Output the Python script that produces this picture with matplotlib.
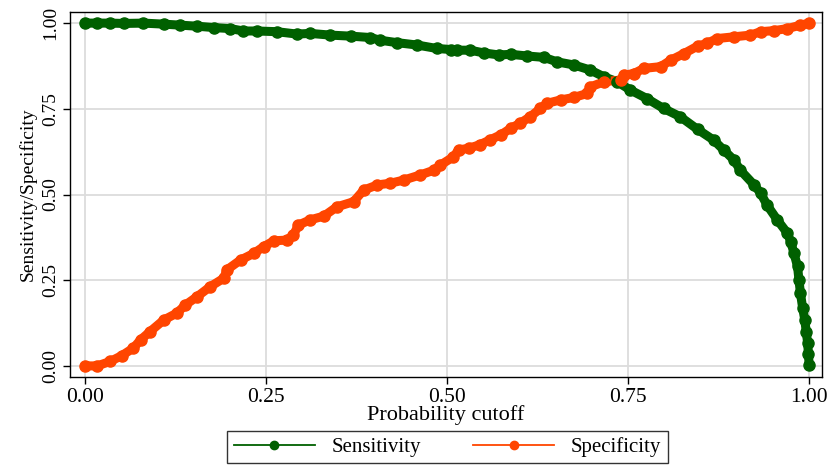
import matplotlib
matplotlib.use("Agg")
import matplotlib.pyplot as plt
from matplotlib.lines import Line2D

# Probability cutoffs and sensitivity values
cut_sens = [0.000, 0.017, 0.035, 0.054, 0.081, 0.109, 0.132, 0.155, 0.178, 0.201,
            0.219, 0.238, 0.265, 0.293, 0.311, 0.339, 0.367, 0.394, 0.408, 0.431,
            0.459, 0.486, 0.505, 0.514, 0.532, 0.551, 0.572, 0.588, 0.611, 0.634,
            0.652, 0.675, 0.698, 0.717, 0.735, 0.753, 0.776, 0.799, 0.822, 0.846,
            0.868, 0.882, 0.896, 0.905, 0.924, 0.933, 0.942, 0.956, 0.970, 0.975,
            0.979, 0.984, 0.986, 0.988, 0.991, 0.994, 0.996, 0.998, 0.999, 1.000]
sensitivity = [1.000, 1.000, 1.000, 0.999, 1.000, 0.997, 0.994, 0.991, 0.987, 0.984,
               0.977, 0.977, 0.975, 0.968, 0.970, 0.965, 0.962, 0.958, 0.950, 0.943,
               0.936, 0.926, 0.923, 0.921, 0.921, 0.913, 0.907, 0.909, 0.904, 0.900,
               0.887, 0.878, 0.863, 0.843, 0.829, 0.805, 0.780, 0.751, 0.727, 0.690,
               0.659, 0.630, 0.601, 0.571, 0.528, 0.504, 0.469, 0.426, 0.387, 0.360,
               0.329, 0.290, 0.250, 0.212, 0.170, 0.134, 0.100, 0.066, 0.035, 0.003]

# Probability cutoffs and specificity values
cut_spec = [0.000, 0.017, 0.035, 0.051, 0.067, 0.077, 0.090, 0.109, 0.127, 0.139,
            0.155, 0.173, 0.192, 0.196, 0.215, 0.233, 0.247, 0.261, 0.279, 0.288,
            0.295, 0.311, 0.330, 0.348, 0.371, 0.385, 0.404, 0.422, 0.440, 0.463,
            0.482, 0.491, 0.509, 0.516, 0.530, 0.545, 0.560, 0.575, 0.588, 0.601,
            0.615, 0.629, 0.638, 0.657, 0.675, 0.694, 0.698, 0.717, 0.740, 0.744,
            0.758, 0.772, 0.795, 0.809, 0.827, 0.846, 0.859, 0.873, 0.896, 0.919,
            0.933, 0.951, 0.970, 0.988, 1.000]
specificity = [0.000, 0.000, 0.013, 0.030, 0.052, 0.076, 0.100, 0.134, 0.154, 0.178,
               0.202, 0.231, 0.256, 0.280, 0.309, 0.328, 0.348, 0.365, 0.367, 0.382,
               0.411, 0.426, 0.437, 0.464, 0.479, 0.513, 0.528, 0.533, 0.542, 0.557,
               0.571, 0.586, 0.610, 0.630, 0.635, 0.645, 0.660, 0.675, 0.693, 0.708,
               0.727, 0.751, 0.766, 0.776, 0.783, 0.795, 0.814, 0.829, 0.834, 0.848,
               0.853, 0.868, 0.873, 0.892, 0.911, 0.933, 0.941, 0.955, 0.960, 0.965,
               0.975, 0.978, 0.984, 0.994, 1.000]

ticks = [0.00, 0.25, 0.50, 0.75, 1.00]
tick_labels = ["0.00", "0.25", "0.50", "0.75", "1.00"]

green = "#006000"
orange = "#ff4500"

plt.rcParams["font.family"] = ["Liberation Serif", "DejaVu Serif"]
plt.rcParams["font.size"] = 14

fig = plt.figure(figsize=(8.33, 4.67), dpi=100)
ax = fig.add_axes([0.084, 0.193, 0.903, 0.781])

# dense marker bands: thick joined line under the markers
for xs, ys, c in [(cut_sens, sensitivity, green), (cut_spec, specificity, orange)]:
    ax.plot(xs, ys, color=c, lw=6.5, solid_capstyle="round",
            solid_joinstyle="round", zorder=3)
    ax.plot(xs, ys, ls="none", marker="o", ms=8, mec=c, mfc=c, zorder=4)

ax.set_xlim(-0.0205, 1.018)
ax.set_ylim(-0.032, 1.032)
ax.set_xticks(ticks)
ax.set_xticklabels(tick_labels, fontsize=15.5)
ax.set_yticks(ticks)
ax.set_yticklabels(tick_labels, rotation=90, va="center", fontsize=14)

ax.grid(True, color="#dcdcdc", lw=1.3)
ax.set_axisbelow(True)
for s in ax.spines.values():
    s.set_linewidth(1.0)
    s.set_color("black")
ax.tick_params(direction="out", length=5, width=1, pad=3)

ax.set_xlabel("Probability cutoff", labelpad=-1, fontsize=16)
ax.set_ylabel("Sensitivity/Specificity", labelpad=4, fontsize=14)

handles = [Line2D([], [], color=green, lw=1.3, marker="o", ms=6),
           Line2D([], [], color=orange, lw=1.3, marker="o", ms=6)]
leg = ax.legend(handles, ["Sensitivity", "Specificity"], loc="upper center",
                bbox_to_anchor=(0.502, -0.148), borderaxespad=0, ncol=2,
                frameon=True, fancybox=False, edgecolor="black",
                handlelength=3.9, handletextpad=0.8, numpoints=1,
                columnspacing=2.5, borderpad=0.3, fontsize=15)
leg.get_frame().set_linewidth(1.0)

fig.savefig("out.png", dpi=100)
